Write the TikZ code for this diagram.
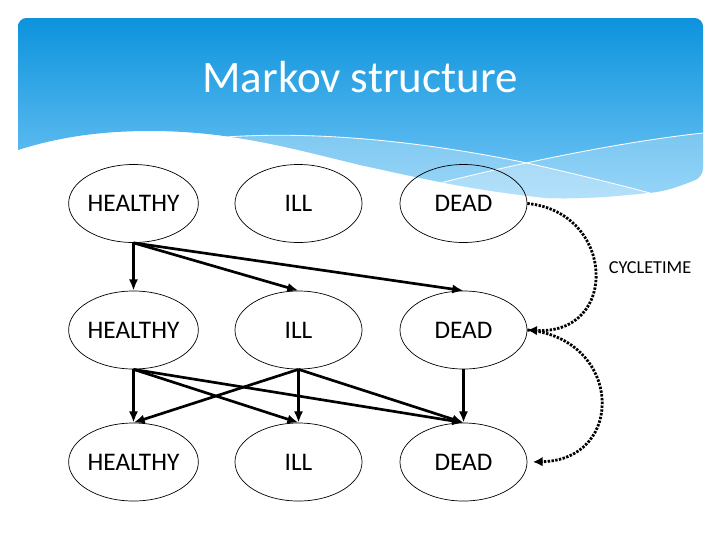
\documentclass[tikz,border=0pt]{standalone}
\usepackage{fontspec}
\setmainfont{Carlito}
\usepackage{tikz}
\usetikzlibrary{arrows.meta, positioning, shapes.geometric}

\definecolor{hdrtop}{RGB}{12,147,220}
\definecolor{hdrbottom}{RGB}{117,199,246}

% outline of the blue title band (pixel units, y down)
\newcommand{\headerpath}{(18,150) [rounded corners=6pt] -- (18,18) -- (703,18) -- (703,177) [sharp corners]
    .. controls (680,186) and (665,192) .. (647,193)
    .. controls (610,197) and (580,199) .. (547,198)
    .. controls (470,190) and (420,178) .. (360,165)
    .. controls (290,148) and (230,131) .. (150,131)
    .. controls (90,131) and (50,140) .. (18,150) -- cycle}

\begin{document}
\begin{tikzpicture}[
    x=0.025cm, y=-0.025cm,
    state/.style={ellipse, draw=black, line width=0.5pt, minimum width=3.175cm, minimum height=1.95cm, inner sep=0pt, font=\fontsize{18}{20}\selectfont},
    trans/.style={-{Latex[length=2.8mm, width=2.3mm]}, line width=1.9pt},
    cyc/.style={-{Latex[length=2.4mm, width=2.4mm]}, line width=2pt, dash pattern=on 1.7pt off 1pt},
    wave/.style={white, line width=0.6pt}
]
    \useasboundingbox (0,0) rectangle (720,540);

    % Title band
    \shade[top color=hdrtop, bottom color=hdrbottom] \headerpath;
    \begin{scope}
        \clip \headerpath;
        \fill[white, opacity=0.28] (225,137) .. controls (330,130) and (440,145) .. (527,163)
            .. controls (580,175) and (620,185) .. (650,193) -- (720,260) -- (225,260) -- cycle;
        \fill[white, opacity=0.25] (380,200) -- (440,183) .. controls (520,163) and (620,142) .. (703,133)
            -- (720,133) -- (720,260) -- (380,260) -- cycle;
        \draw[wave] (225,137) .. controls (330,130) and (440,145) .. (527,163)
            .. controls (580,175) and (620,185) .. (650,193);
        \draw[wave] (440,183) .. controls (520,163) and (620,142) .. (703,133);
    \end{scope}
    \node[text=white, font=\fontsize{32}{36}\selectfont] (title) at (360,77) {Markov structure};

    % States
    \node[state] (H1) at (133.5,203.5) {HEALTHY};
    \node[state] (I1) at (298.5,203.5) {ILL};
    \node[state] (D1) at (463.5,203.5) {DEAD};
    \node[state] (H2) at (133.5,330) {HEALTHY};
    \node[state] (I2) at (298.5,330) {ILL};
    \node[state] (D2) at (463.5,330) {DEAD};
    \node[state] (H3) at (133.5,462) {HEALTHY};
    \node[state] (I3) at (298.5,462) {ILL};
    \node[state] (D3) at (463.5,462) {DEAD};

    % Transitions
    \draw[trans] (H1.south) -- (H2.north);
    \draw[trans] (H1.south) -- (I2.north);
    \draw[trans] (H1.south) -- (D2.north);

    \draw[trans] (H2.south) -- (H3.north);
    \draw[trans] (H2.south) -- (I3.north);
    \draw[trans] (H2.south) -- (D3.north);
    \draw[trans] (I2.south) -- (H3.north);
    \draw[trans] (I2.south) -- (I3.north);
    \draw[trans] (I2.south) -- (D3.north);
    \draw[trans] (D2.south) -- (D3.north);

    % Cycle time
    \draw[cyc] (D1.east) .. controls (615,212) and (620,335) .. (D2.east);
    \draw[cyc, shorten >=4pt] (D2.east) .. controls (622,338) and (627,460) .. (D3.east);
    \node[font=\fontsize{13}{15}\selectfont] (cycle) at (650,268) {CYCLETIME};
\end{tikzpicture}
\end{document}
